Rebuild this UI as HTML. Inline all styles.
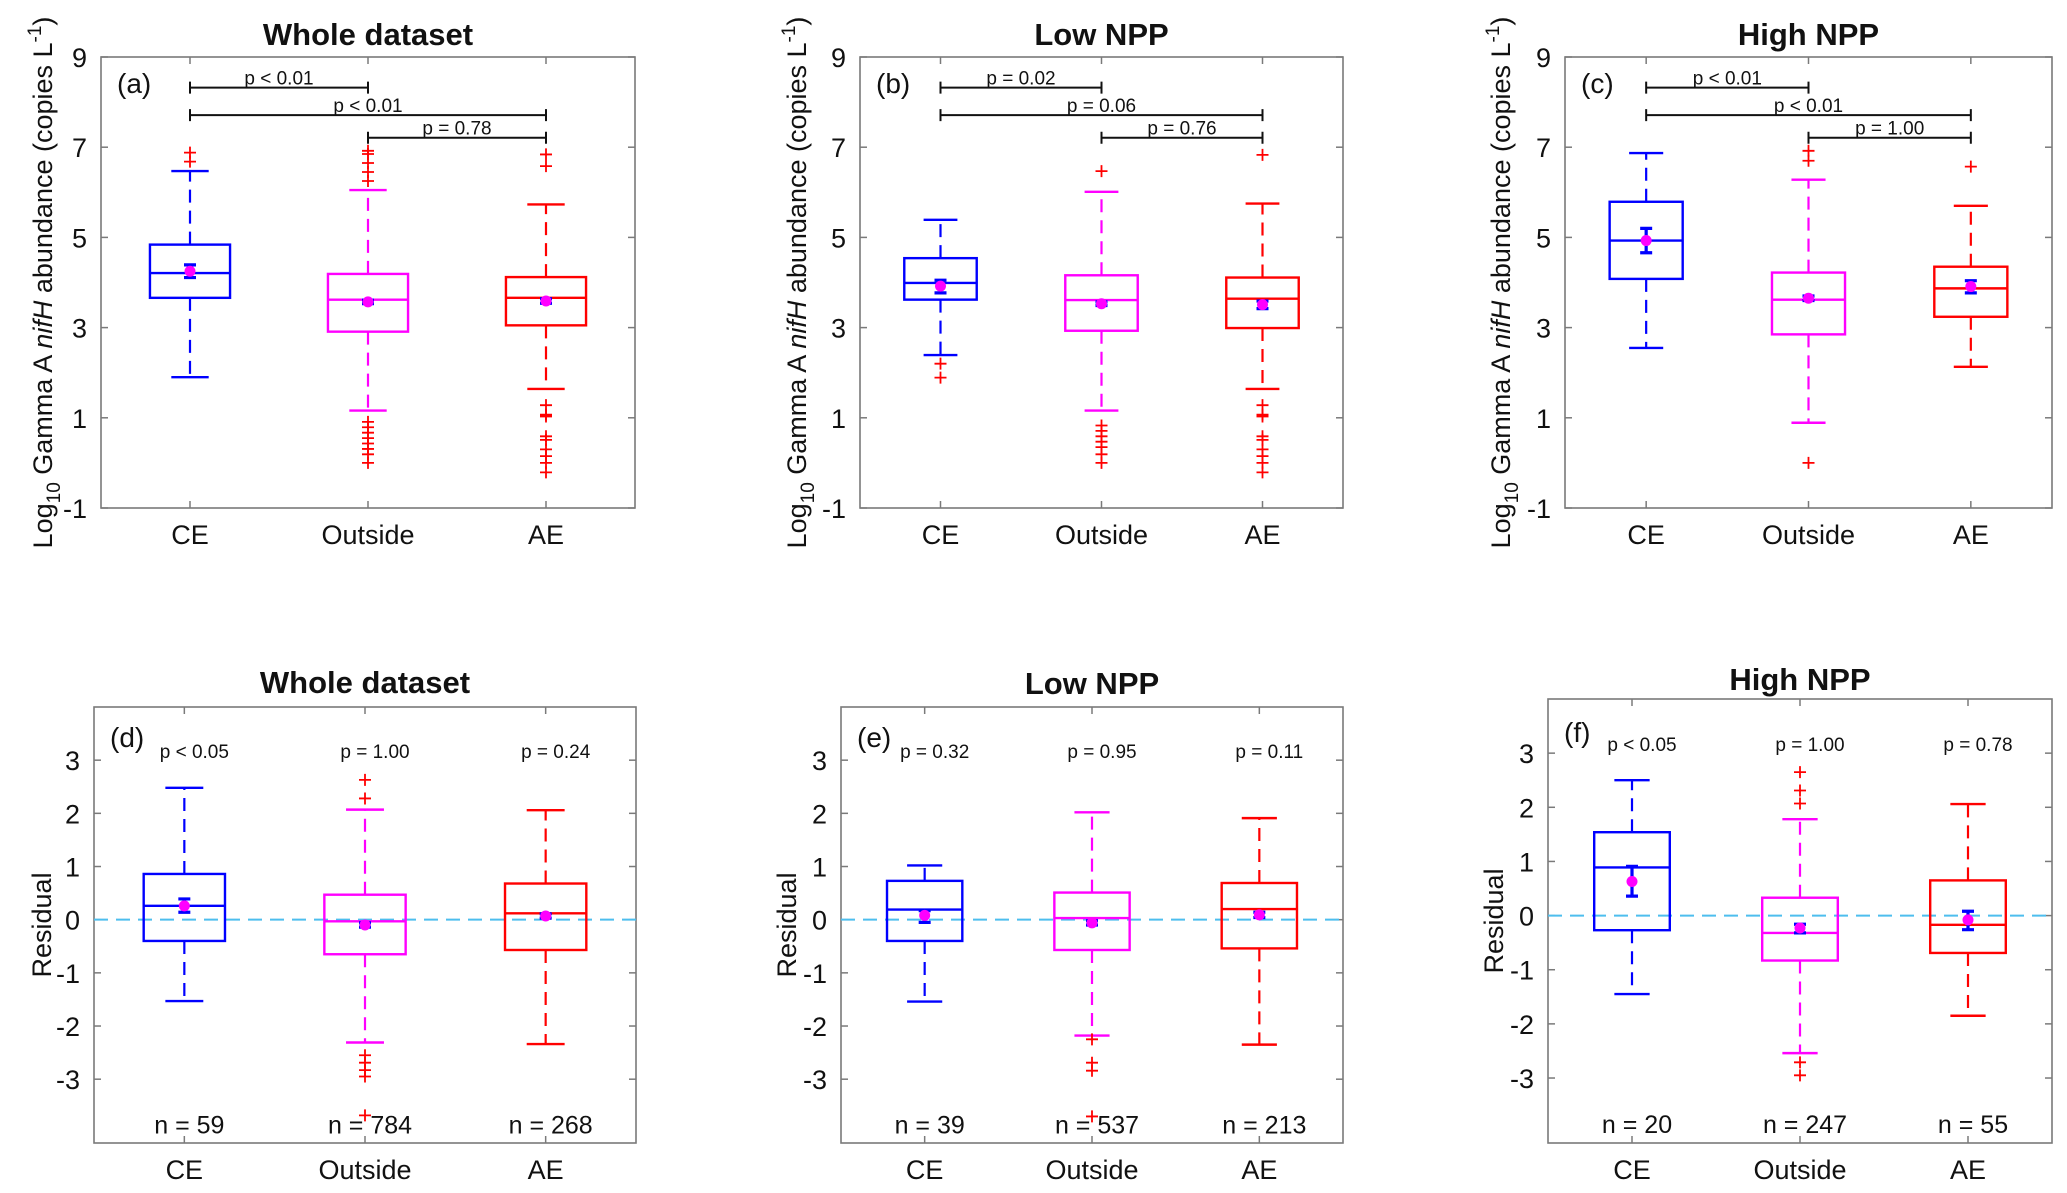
<!DOCTYPE html>
<html>
<head>
<meta charset="utf-8">
<style>
  html,body{margin:0;padding:0;background:#fff;}
  svg{display:block;}
  text{font-family:"Liberation Sans",Arial,sans-serif;fill:#111;}
</style>
</head>
<body>
<svg id="fig" width="2067" height="1193" viewBox="0 0 2067 1193" xmlns="http://www.w3.org/2000/svg"></svg>
<script>
// ---------- DATA ----------
const categories = ["CE", "Outside", "AE"];
const abundanceTicks = [-1, 1, 3, 5, 7, 9];
const residualTicks = [-3, -2, -1, 0, 1, 2, 3];

// Panel (a) Whole dataset - abundance
const aWhiskerHi = [6.47, 6.05, 5.73];
const aQ3 = [4.84, 4.19, 4.12];
const aMedian = [4.21, 3.62, 3.66];
const aQ1 = [3.66, 2.91, 3.05];
const aWhiskerLo = [1.90, 1.16, 1.64];
const aMean = [4.25, 3.57, 3.59];
const aErrHi = [4.39, 3.61, 3.64];
const aErrLo = [4.11, 3.53, 3.54];
const aOutliers = [[6.88, 6.68], [6.92, 6.85, 6.65, 6.45, 6.25, 0.91, 0.79, 0.67, 0.55, 0.43, 0.31, 0.19, 0.0], [6.84, 6.58, 1.28, 1.07, 1.03, 0.59, 0.51, 0.30, 0.15, 0.0, -0.21]];
const aPLabels = ["p < 0.01", "p < 0.01", "p = 0.78"];

// Panel (b) Low NPP - abundance
const bWhiskerHi = [5.39, 6.01, 5.75];
const bQ3 = [4.54, 4.16, 4.11];
const bMedian = [3.99, 3.61, 3.64];
const bQ1 = [3.62, 2.93, 2.99];
const bWhiskerLo = [2.39, 1.16, 1.64];
const bMean = [3.92, 3.53, 3.51];
const bErrHi = [4.05, 3.57, 3.59];
const bErrLo = [3.77, 3.49, 3.42];
const bOutliers = [[2.20, 1.89], [6.47, 0.83, 0.71, 0.59, 0.47, 0.35, 0.19, 0.0], [6.83, 1.28, 1.07, 1.03, 0.59, 0.51, 0.30, 0.15, 0.0, -0.21]];
const bPLabels = ["p = 0.02", "p = 0.06", "p = 0.76"];

// Panel (c) High NPP - abundance
const cWhiskerHi = [6.87, 6.28, 5.70];
const cQ3 = [5.79, 4.22, 4.35];
const cMedian = [4.93, 3.62, 3.87];
const cQ1 = [4.08, 2.85, 3.24];
const cWhiskerLo = [2.55, 0.89, 2.13];
const cMean = [4.93, 3.65, 3.91];
const cErrHi = [5.20, 3.70, 4.04];
const cErrLo = [4.66, 3.60, 3.77];
const cOutliers = [[], [6.92, 6.70, 0.0], [6.57]];
const cPLabels = ["p < 0.01", "p < 0.01", "p = 1.00"];

// Comparison bar levels (same for a-c)
const pBarLevels = [8.32, 7.71, 7.21];
const pBarPairs = [[0, 1], [0, 2], [1, 2]];

// Panel (d) Whole dataset - residual
const dWhiskerHi = [2.48, 2.07, 2.06];
const dQ3 = [0.86, 0.47, 0.68];
const dMedian = [0.26, -0.03, 0.12];
const dQ1 = [-0.40, -0.65, -0.57];
const dWhiskerLo = [-1.53, -2.31, -2.34];
const dMean = [0.26, -0.10, 0.07];
const dErrHi = [0.39, -0.06, 0.11];
const dErrLo = [0.14, -0.14, 0.03];
const dOutliers = [[], [2.63, 2.28, -2.55, -2.69, -2.83, -2.95, -3.68], []];
const dPLabels = ["p < 0.05", "p = 1.00", "p = 0.24"];
const dNLabels = ["n = 59", "n = 784", "n = 268"];

// Panel (e) Low NPP - residual
const eWhiskerHi = [1.02, 2.02, 1.91];
const eQ3 = [0.73, 0.51, 0.69];
const eMedian = [0.19, 0.03, 0.20];
const eQ1 = [-0.40, -0.57, -0.54];
const eWhiskerLo = [-1.54, -2.18, -2.35];
const eMean = [0.08, -0.06, 0.09];
const eErrHi = [0.17, -0.02, 0.14];
const eErrLo = [-0.05, -0.10, 0.04];
const eOutliers = [[], [-2.25, -2.69, -2.84, -3.70], []];
const ePLabels = ["p = 0.32", "p = 0.95", "p = 0.11"];
const eNLabels = ["n = 39", "n = 537", "n = 213"];

// Panel (f) High NPP - residual
const fWhiskerHi = [2.50, 1.78, 2.06];
const fQ3 = [1.54, 0.33, 0.65];
const fMedian = [0.89, -0.32, -0.17];
const fQ1 = [-0.27, -0.83, -0.69];
const fWhiskerLo = [-1.45, -2.54, -1.85];
const fMean = [0.63, -0.23, -0.08];
const fErrHi = [0.91, -0.16, 0.08];
const fErrLo = [0.36, -0.32, -0.26];
const fOutliers = [[], [2.65, 2.31, 2.07, -2.71, -2.95], []];
const fPLabels = ["p < 0.05", "p = 1.00", "p = 0.78"];
const fNLabels = ["n = 20", "n = 247", "n = 55"];

// ---------- DRAWING ----------
const NS = "http://www.w3.org/2000/svg";
const svg = document.getElementById("fig");
const COLORS = ["#0000ff", "#ff00ff", "#ff0000"];

function mk(parent, tag, attrs) {
  const el = document.createElementNS(NS, tag);
  for (const k in attrs) el.setAttribute(k, attrs[k]);
  parent.appendChild(el);
  return el;
}

function drawPanel(p) {
  const g = mk(svg, "g", {});
  
  
  const xs = v => p.left + (v + 0.5) / 3 * (p.right - p.left);
  const ys = v => p.bottom - (v - p.ymin) / (p.ymax - p.ymin) * (p.bottom - p.top);
  const unit = (p.right - p.left) / 3;

  // title
  const title = mk(g, "text", {x: (p.left + p.right) / 2, y: p.titleY, "text-anchor": "middle", "font-size": 31, "font-weight": "bold"});
  title.textContent = p.title;
  
  

  // axes frame
  const frame = mk(g, "rect", {x: p.left, y: p.top, width: p.right - p.left, height: p.bottom - p.top, fill: "none", stroke: "#7a7a7a", "stroke-width": 1.6});
  
  

  // y ticks
  p.ticks.forEach(t => {
    const y = ys(t);
    const tl = mk(g, "line", {x1: p.left, x2: p.left + 7, y1: y, y2: y, stroke: "#7a7a7a", "stroke-width": 1.5});
    
    
    const tr = mk(g, "line", {x1: p.right, x2: p.right - 7, y1: y, y2: y, stroke: "#7a7a7a", "stroke-width": 1.5});
    
    
    const lab = mk(g, "text", {x: p.left - 14, y: y + 10, "text-anchor": "end", "font-size": 27});
    lab.textContent = String(t);
    
    
  });

  // x ticks + labels
  categories.forEach((c, i) => {
    const x = xs(i);
    const tb = mk(g, "line", {x1: x, x2: x, y1: p.bottom, y2: p.bottom - 7, stroke: "#7a7a7a", "stroke-width": 1.5});
    
    
    const tt = mk(g, "line", {x1: x, x2: x, y1: p.top, y2: p.top + 7, stroke: "#7a7a7a", "stroke-width": 1.5});
    
    
    const lab = mk(g, "text", {x: x, y: p.bottom + 36, "text-anchor": "middle", "font-size": 27});
    lab.textContent = c;
    
    
  });

  // y axis label
  const yl = mk(g, "text", {x: 0, y: 0, "text-anchor": "middle", "font-size": 27, transform: "translate(" + p.ylabX + "," + ((p.top + p.bottom) / 2) + ") rotate(-90)"});
  
  
  if (p.residual) {
    yl.textContent = "Residual";
  } else {
    yl.innerHTML = 'Log<tspan font-size="19" dy="8">10</tspan><tspan dy="-8"> Gamma A </tspan><tspan font-style="italic">nifH</tspan><tspan> abundance (copies L</tspan><tspan font-size="19" dy="-11">-1</tspan><tspan dy="11">)</tspan>';
  }

  // panel letter
  const pl = mk(g, "text", {x: p.left + 16, y: p.letterY, "font-size": 28});
  pl.textContent = "(" + p.id + ")";
  
  

  // zero line for residuals
  if (p.residual) {
    const z = mk(g, "line", {x1: p.left, x2: p.right, y1: ys(0), y2: ys(0), stroke: "#4dbeee", "stroke-width": 2, "stroke-dasharray": "14 8"});
    
    
  }

  // boxes
  const bh = 0.225 * unit, ch = 0.105 * unit;
  categories.forEach((c, i) => {
    const col = COLORS[i];
    const x = xs(i);
    const bg = mk(g, "g", {});
    
    
    const w1 = mk(bg, "line", {x1: x, x2: x, y1: ys(p.q3[i]), y2: ys(p.wHi[i]), stroke: col, "stroke-width": 2.2, "stroke-dasharray": "13 8"});
    
    
    const w2 = mk(bg, "line", {x1: x, x2: x, y1: ys(p.q1[i]), y2: ys(p.wLo[i]), stroke: col, "stroke-width": 2.2, "stroke-dasharray": "13 8"});
    
    
    const c1 = mk(bg, "line", {x1: x - ch, x2: x + ch, y1: ys(p.wHi[i]), y2: ys(p.wHi[i]), stroke: col, "stroke-width": 2.4});
    
    
    const c2 = mk(bg, "line", {x1: x - ch, x2: x + ch, y1: ys(p.wLo[i]), y2: ys(p.wLo[i]), stroke: col, "stroke-width": 2.4});
    
    
    const r = mk(bg, "rect", {x: x - bh, y: ys(p.q3[i]), width: 2 * bh, height: ys(p.q1[i]) - ys(p.q3[i]), fill: "none", stroke: col, "stroke-width": 2.4});
    
    
    const m = mk(bg, "line", {x1: x - bh, x2: x + bh, y1: ys(p.med[i]), y2: ys(p.med[i]), stroke: col, "stroke-width": 2.4});
    
    
    p.out[i].forEach(v => {
      const o = mk(bg, "path", {d: "M" + (x - 6) + " " + ys(v) + "h12M" + x + " " + (ys(v) - 6) + "v12", stroke: "#ff0000", "stroke-width": 1.8, fill: "none"});
      
      
    });
    const eb = mk(bg, "path", {d: "M" + x + " " + ys(p.eHi[i]) + "V" + ys(p.eLo[i]) + "M" + (x - 6) + " " + ys(p.eHi[i]) + "h12M" + (x - 6) + " " + ys(p.eLo[i]) + "h12", stroke: "#0000ff", "stroke-width": 3.2, fill: "none"});
    
    
    const md = mk(bg, "circle", {cx: x, cy: ys(p.mean[i]), r: 5.5, fill: "#ff00ff"});
    
    

    if (p.residual) {
      const pt = mk(g, "text", {x: x + 10, y: ys(p.pLab ? 3.17 : 0) + 7, "text-anchor": "middle", "font-size": 19});
      pt.textContent = p.pLabels[i];
      
      
      const nt = mk(g, "text", {x: x + 5, y: ys(-3.83) + 10, "text-anchor": "middle", "font-size": 25});
      nt.textContent = p.nLabels[i];
      
      
    }
  });

  // comparison bars
  if (!p.residual) {
    pBarPairs.forEach((pr, k) => {
      const x1 = xs(pr[0]), x2 = xs(pr[1]), y = ys(pBarLevels[k]);
      const br = mk(g, "path", {d: "M" + x1 + " " + y + "H" + x2 + "M" + x1 + " " + (y - 6) + "v12M" + x2 + " " + (y - 6) + "v12", stroke: "#111", "stroke-width": 2, fill: "none"});
      
      
      const t = mk(g, "text", {x: (x1 + x2) / 2, y: y - 3, "text-anchor": "middle", "font-size": 19});
      t.textContent = p.pLabels[k];
      
      
    });
  }
}

drawPanel({id: "a", title: "Whole dataset", left: 101, right: 635, top: 57, bottom: 508, ymin: -1, ymax: 9, ticks: abundanceTicks, titleY: 45, letterY: 93, ylabX: 52,
  wHi: aWhiskerHi, q3: aQ3, med: aMedian, q1: aQ1, wLo: aWhiskerLo, mean: aMean, eHi: aErrHi, eLo: aErrLo, out: aOutliers, pLabels: aPLabels});
drawPanel({id: "b", title: "Low NPP", left: 860, right: 1343, top: 57, bottom: 508, ymin: -1, ymax: 9, ticks: abundanceTicks, titleY: 45, letterY: 93, ylabX: 806,
  wHi: bWhiskerHi, q3: bQ3, med: bMedian, q1: bQ1, wLo: bWhiskerLo, mean: bMean, eHi: bErrHi, eLo: bErrLo, out: bOutliers, pLabels: bPLabels});
drawPanel({id: "c", title: "High NPP", left: 1565, right: 2052, top: 57, bottom: 508, ymin: -1, ymax: 9, ticks: abundanceTicks, titleY: 45, letterY: 93, ylabX: 1510,
  wHi: cWhiskerHi, q3: cQ3, med: cMedian, q1: cQ1, wLo: cWhiskerLo, mean: cMean, eHi: cErrHi, eLo: cErrLo, out: cOutliers, pLabels: cPLabels});
drawPanel({id: "d", title: "Whole dataset", residual: true, pLab: true, left: 94, right: 636, top: 707, bottom: 1143, ymin: -4.2, ymax: 4, ticks: residualTicks, titleY: 693, letterY: 747, ylabX: 51,
  wHi: dWhiskerHi, q3: dQ3, med: dMedian, q1: dQ1, wLo: dWhiskerLo, mean: dMean, eHi: dErrHi, eLo: dErrLo, out: dOutliers, pLabels: dPLabels, nLabels: dNLabels});
drawPanel({id: "e", title: "Low NPP", residual: true, pLab: true, left: 841, right: 1343, top: 707, bottom: 1143, ymin: -4.2, ymax: 4, ticks: residualTicks, titleY: 694, letterY: 747, ylabX: 796,
  wHi: eWhiskerHi, q3: eQ3, med: eMedian, q1: eQ1, wLo: eWhiskerLo, mean: eMean, eHi: eErrHi, eLo: eErrLo, out: eOutliers, pLabels: ePLabels, nLabels: eNLabels});
drawPanel({id: "f", title: "High NPP", residual: true, pLab: true, left: 1548, right: 2052, top: 699, bottom: 1143, ymin: -4.2, ymax: 4, ticks: residualTicks, titleY: 690, letterY: 742, ylabX: 1503,
  wHi: fWhiskerHi, q3: fQ3, med: fMedian, q1: fQ1, wLo: fWhiskerLo, mean: fMean, eHi: fErrHi, eLo: fErrLo, out: fOutliers, pLabels: fPLabels, nLabels: fNLabels});
</script>
</body>
</html>
